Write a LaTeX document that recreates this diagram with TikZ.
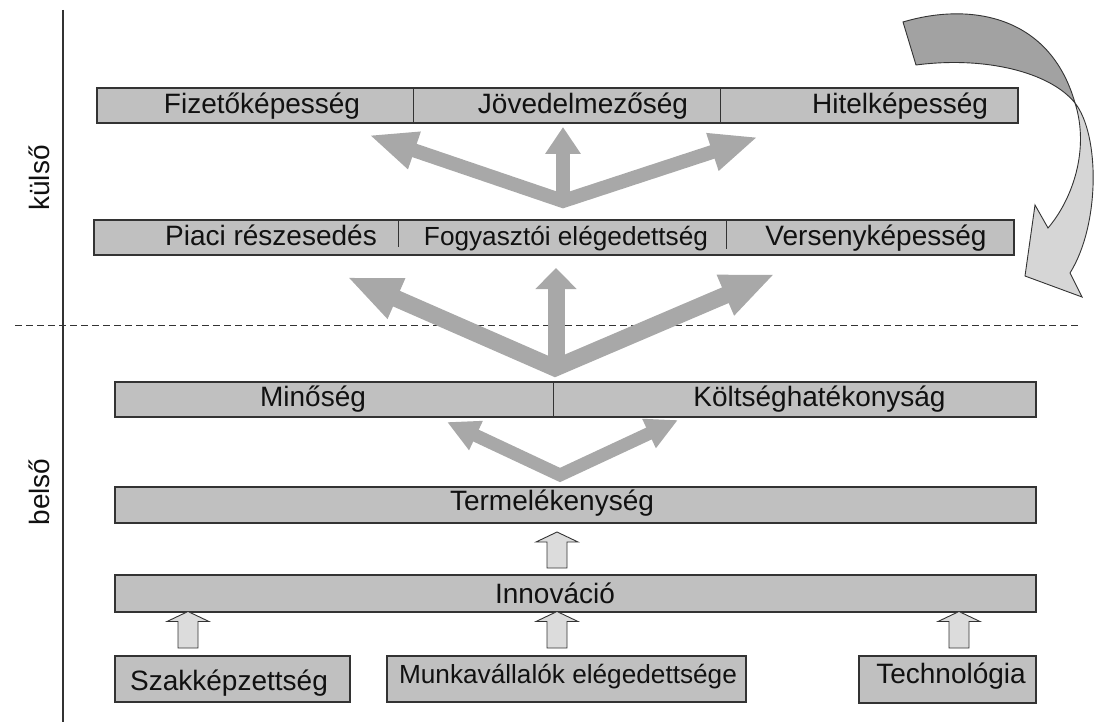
\documentclass[tikz,border=0pt]{standalone}
\usepackage{fontspec}
\setmainfont{Liberation Sans}
\usetikzlibrary{arrows.meta}
\definecolor{boxfill}{HTML}{C0C0C0}
\definecolor{boxline}{HTML}{333333}
\definecolor{arrowgray}{HTML}{A8A8A8}
\definecolor{hollowfill}{HTML}{DCDCDC}
\definecolor{curvelight}{HTML}{D6D6D6}
\definecolor{curvedark}{HTML}{A2A2A2}
\definecolor{txt}{HTML}{111111}
\begin{document}
\begin{tikzpicture}[x=1pt,y=-1pt,
  barbox/.style={draw=boxline,fill=boxfill,line width=1.1pt,inner sep=0pt,outer sep=0pt,anchor=north west},
  lbl/.style={anchor=base,inner sep=0pt,outer sep=0pt,font=\fontsize{28}{32}\selectfont,text=txt},
  lblsmall/.style={lbl,font=\fontsize{26.2}{30}\selectfont},
  divider/.style={draw=boxline,line width=1pt},
  bigarrow/.style={draw=arrowgray,line width=#1,line cap=butt,line join=miter},
  hollow/.style={draw=boxline,fill=hollowfill,line width=0.9pt,line join=miter},
  curveline/.style={draw=boxline,line width=0.9pt,line join=miter},
]
\useasboundingbox (0,0) rectangle (1095,722);

% axis line and dashed separator
\coordinate (vlt) at (63,10);
\coordinate (vlb) at (63,722);
\draw[draw=boxline,line width=1.2pt] (vlt) -- (vlb);
\coordinate (dl) at (15,325);
\coordinate (dr) at (1080,325);
\draw[draw=boxline,line width=1pt,dash pattern=on 7pt off 4pt] (dl) -- (dr);

% side labels
\node[lbl,rotate=90] (kulso) at (49,178) {külső};
\node[lbl,rotate=90] (belso) at (49,492) {belső};

% boxes
\node[barbox,minimum width=921pt,minimum height=35pt] (r1) at (97,88) {};
\node[barbox,minimum width=920pt,minimum height=35pt] (r2) at (94,220) {};
\node[barbox,minimum width=921pt,minimum height=35pt] (r3) at (115,382) {};
\node[barbox,minimum width=921pt,minimum height=36pt] (r4) at (115,487) {};
\node[barbox,minimum width=921pt,minimum height=37pt] (r5) at (115,575) {};
\node[barbox,minimum width=235pt,minimum height=46pt] (b1) at (115,656) {};
\node[barbox,minimum width=359pt,minimum height=46pt] (b2) at (387,656) {};
\node[barbox,minimum width=177pt,minimum height=47pt] (b3) at (859,656) {};

% dividers
\draw[divider] (413,88) -- (413,123);
\draw[divider] (720,88) -- (720,123);
\draw[divider] (398.5,221) -- (398.5,247);
\draw[divider] (726,221) -- (726,249);
\draw[divider] (553,382) -- (553,417);

% texts
\node[lbl] (t11) at (262,114) {Fizetőképesség};
\node[lbl] (t12) at (583,114) {Jövedelmezőség};
\node[lbl] (t13) at (900,114) {Hitelképesség};
\node[lbl] (t21) at (271,246) {Piaci részesedés};
\node[lblsmall] (t22) at (566,246) {Fogyasztói elégedettség};
\node[lbl] (t23) at (876,246) {Versenyképesség};
\node[lbl] (t31) at (313,406) {Minőség};
\node[lbl] (t32) at (819.5,406) {Költséghatékonyság};
\node[lbl] (t4) at (552,510) {Termelékenység};
\node[lbl] (t5) at (555,603) {Innováció};
\node[lbl] (tb1) at (229,690) {Szakképzettség};
\node[lblsmall] (tb2) at (568,683) {Munkavállalók elégedettsége};
\node[lbl] (tb3) at (951,683) {Technológia};

% big gray arrows, row 1
\coordinate (v1) at (563,201);
\coordinate (a1l) at (369,135);
\coordinate (a1r) at (758,137);
\coordinate (a1b) at (563,203);
\coordinate (a1t) at (563,127);
\draw[bigarrow=14pt,{Triangle[length=48pt,width=36pt]}-{Triangle[length=48pt,width=36pt]}] (a1l) -- (v1) -- (a1r);
\draw[bigarrow=14pt,-{Triangle[length=27pt,width=34pt]}] (a1b) -- (a1t);

% row 2
\coordinate (v2) at (555,368);
\coordinate (a2l) at (347,277);
\coordinate (a2r) at (775,274);
\coordinate (a2b) at (556,370);
\coordinate (a2t) at (556,268);
\draw[bigarrow=17pt,{Triangle[length=54pt,width=40pt]}-{Triangle[length=54pt,width=40pt]}] (a2l) -- (v2) -- (a2r);
\draw[bigarrow=17pt,-{Triangle[length=21pt,width=40pt]}] (a2b) -- (a2t);

% row 3
\coordinate (v3) at (560,475);
\coordinate (a3l) at (447,422);
\coordinate (a3r) at (678,420);
\draw[bigarrow=13pt,{Triangle[length=32pt,width=30pt]}-{Triangle[length=32pt,width=30pt]}] (a3l) -- (v3) -- (a3r);

% hollow arrows
\coordinate (h1) at (557,532);
\coordinate (h2) at (188,611.5);
\coordinate (h3) at (557,611.5);
\coordinate (h4) at (959,611.5);
\draw[hollow] (h1) -- ++(21,10) -- ++(-11,0) -- ++(0,26) -- ++(-20,0) -- ++(0,-26) -- ++(-11,0) -- cycle;
\foreach \h in {h2,h3,h4}{
  \draw[hollow] (\h) -- ++(21,10) -- ++(-11,0) -- ++(0,26.5) -- ++(-20,0) -- ++(0,-26.5) -- ++(-11,0) -- cycle;
}

% curved arrow (top right)
\filldraw[curveline,fill=curvedark] (903,22) .. controls (970,2) and (1050,15) .. (1075,103)
   .. controls (1050,72) and (985,56) .. (916,65) -- cycle;
\filldraw[curveline,fill=curvelight] (1075,103) .. controls (1100,135) and (1100,225) .. (1070,273)
   -- (1082,297) -- (1025,276) -- (1035,205) -- (1048,228)
   .. controls (1072,200) and (1090,150) .. (1075,103) -- cycle;
\end{tikzpicture}
\end{document}
